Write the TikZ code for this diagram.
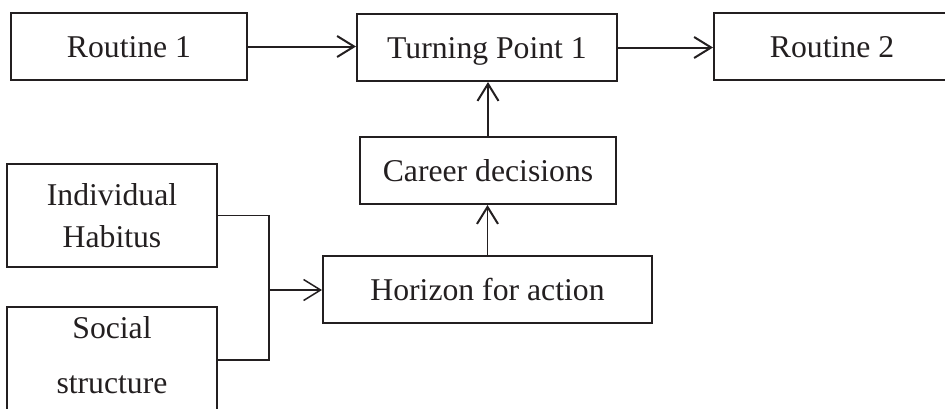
\documentclass[tikz,border=0pt]{standalone}
\usepackage{fontspec}
\setmainfont{Liberation Serif}
\usetikzlibrary{arrows.meta}
\definecolor{ink}{HTML}{231F20}
\begin{document}
\begin{tikzpicture}[x=1pt,y=-1pt,
  box/.style={draw=ink, line width=2pt, rectangle, inner sep=0pt,
    text=ink, font=\fontsize{31.7}{42}\selectfont, align=center},
  oneline/.style={box, text height=21pt, text depth=0pt,
    minimum height=67pt},
  flow/.style={draw=ink, line width=2pt,
    -{Straight Barb[length=17pt,width=21pt,line width=2pt]}},
  mergeline/.style={draw=ink, line width=1.5pt}]
\useasboundingbox (0,0) rectangle (945,408);

% top row: routines and the turning point
\node[oneline, minimum width=236pt] (r1) at (129,46.5) {Routine 1};
\node[oneline, minimum width=260pt] (tp) at (487,47.5) {Turning Point 1};
\node[oneline, minimum width=236pt] (r2) at (832,46.5) {Routine 2};

% middle column
\node[oneline, minimum width=256pt] (cd) at (488,170.5) {Career decisions};
\node[oneline, minimum width=329pt] (ho) at (487.5,289.5) {Horizon for action};

% influences on the left
\node[box, minimum width=210pt, minimum height=103pt] (ih) at (112,215.5) {Individual\\Habitus};
\node[box, minimum width=210pt, minimum height=106pt] (ss) at (112,360) {};
\node[text=ink, font=\fontsize{31.7}{55}\selectfont, align=center, inner sep=0pt]
  (sst) at ([yshift=5pt]ss.center) {Social\\structure};

% arrows
\draw[flow] (r1.east) -- (r1.east -| tp.west);
\draw[flow] (tp.east) -- (tp.east -| r2.west);
\draw[flow] (cd.north) -- (cd.north |- tp.south);
\draw[flow, line width=1.5pt] (ho.north) -- (ho.north |- cd.south);

% merging connector from the two influences
\coordinate (jx) at (269,290);
\draw[mergeline] (ih.east) -| (jx);
\draw[mergeline] (ss.east) -| (jx);
\draw[mergeline, -{Straight Barb[length=17pt,width=21pt,line width=1.5pt]}] (jx) -- (jx -| ho.west);
\end{tikzpicture}
\end{document}
